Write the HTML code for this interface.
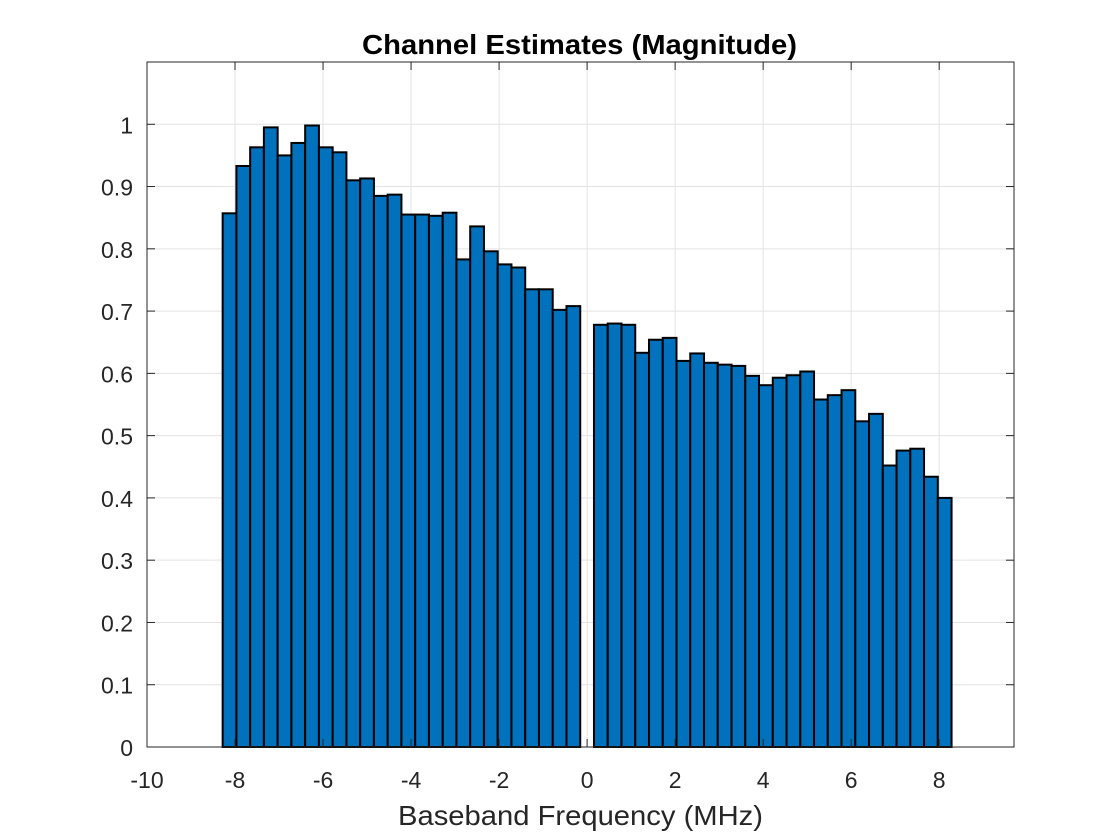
<!DOCTYPE html>
<html><head><meta charset="utf-8"><style>
body{margin:0;background:#fff;}
svg{display:block;font-family:"Liberation Sans",Arial,sans-serif;}
</style></head><body>
<svg id="chart" width="1120" height="840">
<rect x="0" y="0" width="1120" height="840" fill="#fff"/>
<g id="grid"></g><g id="bars"></g><g id="axes"></g>
</svg>
<script>
const subcarriers = [-26,-25,-24,-23,-22,-21,-20,-19,-18,-17,-16,-15,-14,-13,-12,-11,-10,-9,-8,-7,-6,-5,-4,-3,-2,-1,1,2,3,4,5,6,7,8,9,10,11,12,13,14,15,16,17,18,19,20,21,22,23,24,25,26];
const magnitudes = [0.857,0.933,0.963,0.995,0.950,0.970,0.998,0.963,0.955,0.910,0.913,0.885,0.887,0.855,0.855,0.853,0.858,0.783,0.836,0.796,0.775,0.770,0.735,0.735,0.702,0.708,
0.678,0.680,0.678,0.633,0.654,0.657,0.620,0.632,0.617,0.614,0.612,0.596,0.581,0.593,0.597,0.603,0.558,0.565,0.573,0.523,0.535,0.452,0.476,0.479,0.434,0.400];
const xTicks = [-10,-8,-6,-4,-2,0,2,4,6,8];
const yTicks = [0,0.1,0.2,0.3,0.4,0.5,0.6,0.7,0.8,0.9,1];
const spacing = 0.3125;
const L=147,R=1014,T=62,B=747,xmin=-10,xmax=9.7,ymin=0,ymax=1.1;
const sx=v=>L+(v-xmin)/(xmax-xmin)*(R-L);
const sy=v=>B-(v-ymin)/(ymax-ymin)*(B-T);
const NS="http://www.w3.org/2000/svg";
function mk(tag,attrs,parent,text){const e=document.createElementNS(NS,tag);for(const k in attrs)e.setAttribute(k,attrs[k]);if(text!==undefined)e.textContent=text;parent.appendChild(e);return e;}
const grid=document.getElementById('grid'),bars=document.getElementById('bars'),axes=document.getElementById('axes');
xTicks.forEach(t=>{const g=mk('line',{x1:sx(t),x2:sx(t),y1:T,y2:B,stroke:'#e3e3e3','stroke-width':1},grid);

});
yTicks.forEach(t=>{const g=mk('line',{x1:L,x2:R,y1:sy(t),y2:sy(t),stroke:'#e3e3e3','stroke-width':1},grid);

});
subcarriers.forEach((k,i)=>{const f=k*spacing;const x0=sx(f-spacing/2),x1=sx(f+spacing/2);
const r=mk('rect',{x:x0,y:sy(magnitudes[i]),width:x1-x0,height:sy(0)-sy(magnitudes[i]),fill:'#0072bd',stroke:'#000','stroke-width':2},bars);

});
const box=mk('rect',{x:L,y:T,width:R-L,height:B-T,fill:'none',stroke:'#262626','stroke-width':1},axes);


xTicks.forEach(t=>{mk('line',{x1:sx(t),x2:sx(t),y1:B,y2:B-8,stroke:'#262626'},axes);mk('line',{x1:sx(t),x2:sx(t),y1:T,y2:T+8,stroke:'#262626'},axes);
const tx=mk('text',{x:sx(t),y:B+41,'text-anchor':'middle','font-size':23,fill:'#262626'},axes,String(t));

});
yTicks.forEach(t=>{mk('line',{x1:L,x2:L+8,y1:sy(t),y2:sy(t),stroke:'#262626'},axes);mk('line',{x1:R,x2:R-8,y1:sy(t),y2:sy(t),stroke:'#262626'},axes);
const tx=mk('text',{x:L-14,y:sy(t)+9,'text-anchor':'end','font-size':23,fill:'#262626'},axes,String(t));

});
const title=mk('text',{x:362,y:54,'font-size':28,'font-weight':'bold',fill:'#000',textLength:435,lengthAdjust:'spacingAndGlyphs'},axes,'Channel Estimates (Magnitude)');


const xl=mk('text',{x:398,y:825,'font-size':28,fill:'#262626',textLength:365,lengthAdjust:'spacingAndGlyphs'},axes,'Baseband Frequency (MHz)');


</script>
</body></html>
